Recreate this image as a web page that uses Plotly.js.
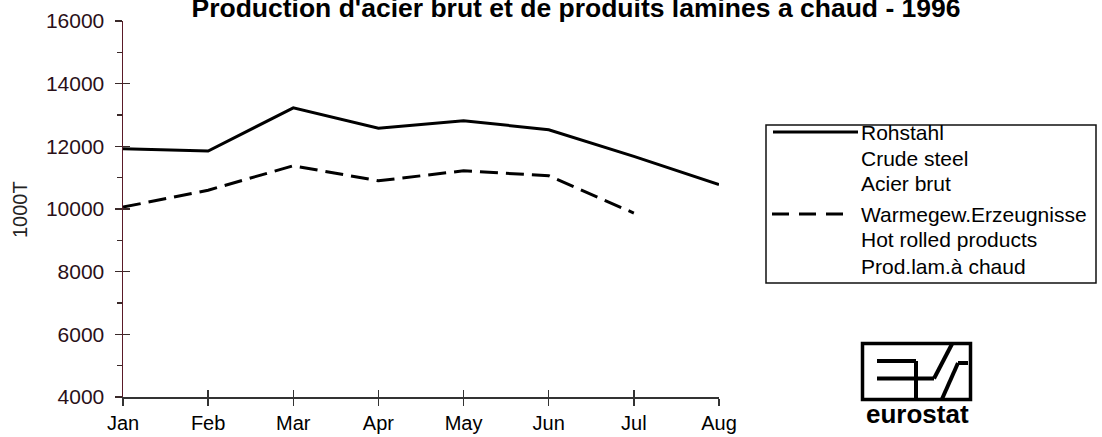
<!DOCTYPE html>
<html>
<head>
<meta charset="utf-8">
<script src="https://cdn.plot.ly/plotly-3.0.1.min.js"></script>
<style>html,body{margin:0;padding:0;background:#fff;}#chart{width:1102px;height:437px;}</style>
</head>
<body>
<div id="chart"></div>
<script>
// ---- data ----
const months = ['Jan', 'Feb', 'Mar', 'Apr', 'May', 'Jun', 'Jul', 'Aug'];
const crudeSteel = [11920, 11850, 13230, 12580, 12820, 12530, 11680, 10780];
const hotRolled = [10060, 10600, 11380, 10900, 11220, 11060, 9870, null];
const yTicks = [4000, 6000, 8000, 10000, 12000, 14000, 16000];
const legendCrude = ['Rohstahl', 'Crude steel', 'Acier brut'];
const legendHot = ['Warmegew.Erzeugnisse', 'Hot rolled products', 'Prod.lam.à chaud'];
const titleText = "Production d'acier brut et de produits lamines a chaud - 1996";
const yTitle = '1000T';

// ---- layout geometry (pixels) ----
const W = 1102, H = 437;
const L = 123, R = 719, T = 21, B = 397;
const px = x => (x - L) / (R - L);
const py = y => (B - y) / (B - T);
const FONT = 'Liberation Sans, Arial, Helvetica, sans-serif';

const traces = [
  {x: months, y: crudeSteel, type: 'scatter', mode: 'lines', name: legendCrude.join(' / '),
   line: {color: '#000', width: 3}, showlegend: false, hoverinfo: 'skip'},
  {x: months, y: hotRolled, type: 'scatter', mode: 'lines', name: legendHot.join(' / '),
   line: {color: '#000', width: 3, dash: '18px,8px'}, showlegend: false, connectgaps: false, hoverinfo: 'skip'}
];

const shapes = [];
const annotations = [];
// legend box
shapes.push({type: 'rect', xref: 'paper', yref: 'paper', x0: px(766), x1: px(1096), y0: py(125), y1: py(283),
  line: {color: '#111', width: 1.5}, fillcolor: 'rgba(0,0,0,0)'});
shapes.push({type: 'line', xref: 'paper', yref: 'paper', x0: px(773), x1: px(858), y0: py(132), y1: py(132),
  line: {color: '#000', width: 3}});
shapes.push({type: 'line', xref: 'paper', yref: 'paper', x0: px(772), x1: px(848), y0: py(214), y1: py(214),
  line: {color: '#000', width: 3, dash: '17px,10px'}});
const legYs = [132, 158, 183, 214, 240, 266];
legendCrude.concat(legendHot).forEach((t, i) => {
  annotations.push({text: t, xref: 'paper', yref: 'paper', x: px(859), y: py(legYs[i]),
    xanchor: 'left', yanchor: 'middle', showarrow: false, font: {family: FONT, size: 21, color: '#000'}});
});
// eurostat logo
shapes.push({type: 'rect', xref: 'paper', yref: 'paper', x0: px(862.5), x1: px(970.5), y0: py(343.5), y1: py(399.5),
  line: {color: '#000', width: 3.5}});
const logoPaths = [
  [[877, 361], [916, 361], [916, 399]],
  [[877, 378.5], [934, 378.5], [952, 344]],
  [[942, 399], [958, 363], [968, 363]]
];
logoPaths.forEach(p => {
  for (let i = 0; i < p.length - 1; i++) {
    shapes.push({type: 'line', xref: 'paper', yref: 'paper', x0: px(p[i][0]), y0: py(p[i][1]),
      x1: px(p[i + 1][0]), y1: py(p[i + 1][1]), line: {color: '#000', width: 4}});
  }
});
annotations.push({text: '<b>eurostat</b>', xref: 'paper', yref: 'paper', x: px(917), y: py(414),
  xanchor: 'center', yanchor: 'middle', showarrow: false, font: {family: FONT, size: 26, color: '#000'}});
// y axis title
annotations.push({text: yTitle, xref: 'paper', yref: 'paper', x: px(20), y: py(210), textangle: -90,
  xanchor: 'center', yanchor: 'middle', showarrow: false, font: {family: FONT, size: 20, color: '#222'}});

const layout = {
  width: W, height: H,
  margin: {l: L, r: W - R, t: T, b: H - B, pad: 0},
  paper_bgcolor: '#fff', plot_bgcolor: '#fff',
  showlegend: false,
  title: {text: '<b>' + titleText + '</b>', x: 576 / W, xanchor: 'center', xref: 'container',
    y: 1 - 8 / H, yanchor: 'middle', yref: 'container', font: {family: FONT, size: 26.5, color: '#000'}},
  xaxis: {type: 'category', range: [0, 7], showgrid: false, zeroline: false,
    showline: true, linecolor: '#333', linewidth: 1.5,
    ticks: 'outside', ticklen: 7, tickcolor: '#333', tickwidth: 1.5,
    tickfont: {family: FONT, size: 20, color: '#000'}, fixedrange: true},
  xaxis2: {type: 'category', range: [0, 7], overlaying: 'x', showgrid: false, zeroline: false,
    showline: false, ticks: 'inside', ticklen: 7, tickcolor: '#333', tickwidth: 1.5,
    showticklabels: false, matches: 'x'},
  yaxis: {range: [4000, 16000], tickvals: yTicks, tickformat: 'd', showgrid: false, zeroline: false,
    showline: true, linecolor: '#5a1a28', linewidth: 1.5,
    ticks: 'outside', ticklen: 7, tickcolor: '#3a2a2a', tickwidth: 1.5,
    minor: {dtick: 1000, ticks: 'outside', ticklen: 5, tickcolor: '#3a2a2a', tickwidth: 1.2},
    tickfont: {family: FONT, size: 21, color: '#2a1018'}, ticklabelstandoff: 6, fixedrange: true},
  yaxis2: {range: [4000, 16000], tickvals: yTicks, overlaying: 'y', showgrid: false, zeroline: false,
    showline: false, ticks: 'inside', ticklen: 7, tickcolor: '#3a2a2a', tickwidth: 1.5,
    showticklabels: false},
  shapes: shapes,
  annotations: annotations
};
// invisible trace to activate the secondary (inside-tick) axes
traces.push({x: months, y: crudeSteel, xaxis: 'x2', yaxis: 'y2', type: 'scatter', mode: 'lines',
  line: {width: 0, color: 'rgba(0,0,0,0)'}, showlegend: false, hoverinfo: 'skip'});

Plotly.newPlot('chart', traces, layout, {displayModeBar: false, staticPlot: true});
</script>
</body>
</html>
